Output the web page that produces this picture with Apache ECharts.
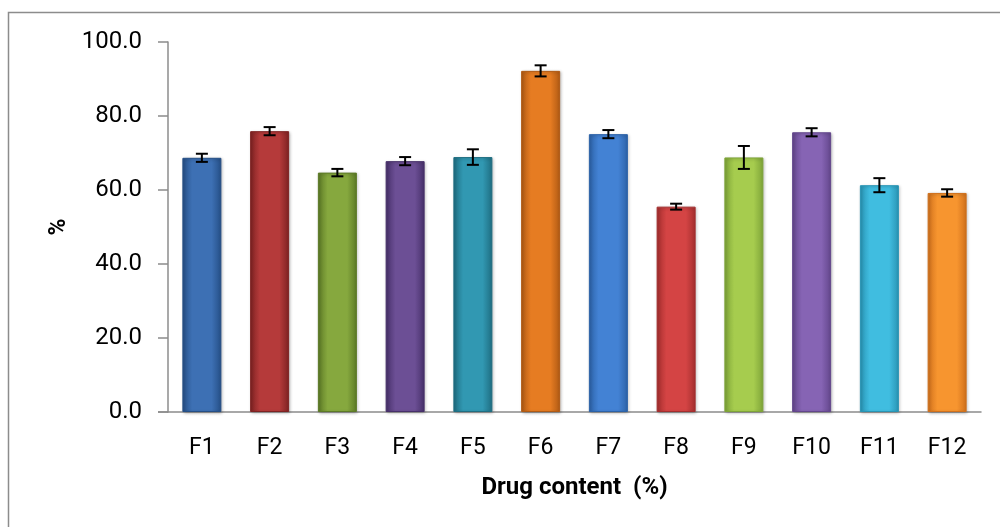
<!DOCTYPE html>
<html>
<head>
<meta charset="utf-8">
<script src="https://cdn.jsdelivr.net/npm/echarts@6/dist/echarts.min.js"></script>
<style>html,body{margin:0;padding:0;background:#fff;}#c{width:1000px;height:527px;}</style>
</head>
<body>
<div id="c"></div>
<script>
var categories = ['F1','F2','F3','F4','F5','F6','F7','F8','F9','F10','F11','F12'];
var values = [68.7, 75.9, 64.7, 67.8, 68.9, 92.2, 75.1, 55.5, 68.8, 75.6, 61.3, 59.2];
var errors = [1.1, 1.1, 1.0, 1.1, 2.1, 1.5, 1.1, 0.8, 3.1, 1.1, 1.9, 1.0];
var yTicks = [0, 20, 40, 60, 80, 100];
var barColors = [
  ['#3d70b4','#254f86'], ['#b53a3a','#7e2222'], ['#86a83e','#5c7a26'],
  ['#6c4f95','#47306a'], ['#3198b2','#1f6e82'], ['#e67c22','#b05a14'],
  ['#4382d4','#2c62a8'], ['#d44444','#a42e2e'], ['#a6cc4e','#7ea438'],
  ['#8664b4','#63468c'], ['#40bde0','#2894b4'], ['#f7952f','#d0701c']
];

var chart = echarts.init(document.getElementById('c'));
var font = 'Roboto';
chart.setOption({
  backgroundColor: '#fff',
  animation: false,
  graphic: [{
    type: 'rect', shape: {x: 8.5, y: 12.5, width: 1000, height: 600},
    style: {fill: 'none', stroke: '#8c8c8c', lineWidth: 1.5}, silent: true
  }, {
    type: 'line', shape: {x1: 158, y1: 412, x2: 168, y2: 412},
    style: {stroke: '#8c8c8c', lineWidth: 1.5}, silent: true
  }],
  grid: {left: 168, right: 19, top: 42, bottom: 115},
  xAxis: {
    type: 'category', data: categories,
    name: 'Drug content  (%)', nameLocation: 'middle', nameGap: 64,
    nameTextStyle: {fontFamily: font, fontWeight: 'bold', fontSize: 24, color: '#000'},
    axisLine: {lineStyle: {color: '#8c8c8c', width: 1.5}},
    axisTick: {show: false},
    axisLabel: {fontFamily: font, fontSize: 23, color: '#000', margin: 25}
  },
  yAxis: {
    type: 'value', min: 0, max: 100, interval: 20,
    name: '%', nameLocation: 'middle', nameGap: 96, nameRotate: 90,
    nameTextStyle: {fontFamily: font, fontWeight: 'bold', fontSize: 23, color: '#000'},
    axisLine: {show: true, lineStyle: {color: '#8c8c8c', width: 1.5}},
    axisTick: {show: true, length: 10, lineStyle: {color: '#8c8c8c', width: 1.5}},
    splitLine: {show: false},
    axisLabel: {fontFamily: font, fontSize: 24, color: '#000', margin: 26,
      formatter: function (v) { return yTicks.indexOf(v) >= 0 ? v.toFixed(1) : ''; }}
  },
  series: [{
    type: 'bar',
    barWidth: 39,
    data: values.map(function (v, i) {
      return {
        value: v,
        itemStyle: {
          color: new echarts.graphic.LinearGradient(0, 0, 1, 0, [
            {offset: 0, color: barColors[i][1]},
            {offset: 0.25, color: barColors[i][0]},
            {offset: 0.75, color: barColors[i][0]},
            {offset: 1, color: barColors[i][1]}
          ]),
          borderColor: barColors[i][1], borderWidth: 1,
          shadowColor: 'rgba(0,0,0,0.25)', shadowBlur: 3, shadowOffsetX: 1, shadowOffsetY: 1
        }
      };
    })
  }, {
    type: 'custom',
    data: values.map(function (v, i) { return [i, v - errors[i], v + errors[i]]; }),
    renderItem: function (params, api) {
      var lo = api.coord([api.value(0), api.value(1)]);
      var hi = api.coord([api.value(0), api.value(2)]);
      var w = 6;
      var st = {stroke: '#000', lineWidth: 2};
      return {type: 'group', children: [
        {type: 'line', shape: {x1: lo[0], y1: lo[1], x2: hi[0], y2: hi[1]}, style: st},
        {type: 'line', shape: {x1: lo[0]-w, y1: lo[1], x2: lo[0]+w, y2: lo[1]}, style: st},
        {type: 'line', shape: {x1: hi[0]-w, y1: hi[1], x2: hi[0]+w, y2: hi[1]}, style: st}
      ]};
    },
    z: 10
  }]
});
</script>
</body>
</html>
